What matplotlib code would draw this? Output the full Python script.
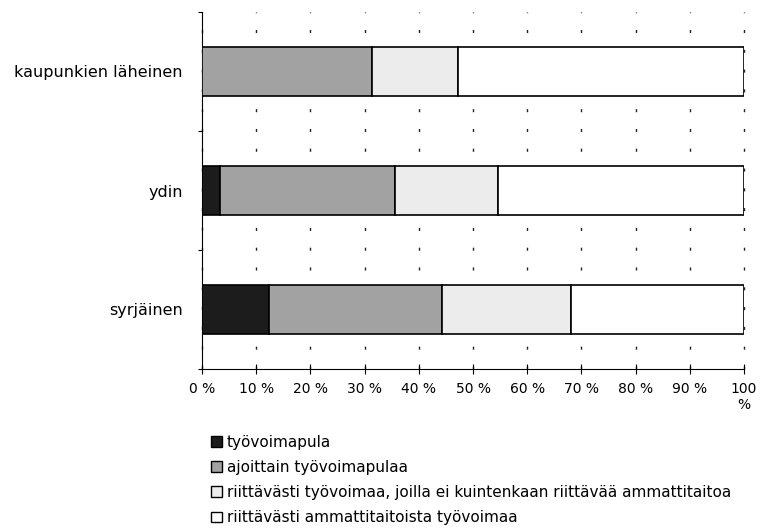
import matplotlib
matplotlib.use("Agg")
import matplotlib.pyplot as plt
from matplotlib.patches import Patch
import numpy as np

categories = ["kaupunkien läheinen", "ydin", "syrjäinen"]
series_names = [
    "työvoimapula",
    "ajoittain työvoimapulaa",
    "riittävästi työvoimaa, joilla ei kuintenkaan riittävää ammattitaitoa",
    "riittävästi ammattitaitoista työvoimaa",
]
tyovoimapula = [0.0, 3.4, 12.3]
ajoittain = [31.3, 32.2, 31.9]
riittava_ei_taito = [15.9, 19.1, 23.9]
riittava_taito = [52.8, 45.3, 31.9]
tick_values = [0, 10, 20, 30, 40, 50, 60, 70, 80, 90, 100]
tick_labels = ["0 %", "10 %", "20 %", "30 %", "40 %", "50 %", "60 %", "70 %", "80 %", "90 %", "100\n%"]

colors = ["#1c1c1c", "#a2a2a2", "#ececec", "#ffffff"]

W, H = 761, 528
fig = plt.figure(figsize=(W / 100, H / 100), dpi=100)
left, right, top, bottom = 202, 744, 12, 369
ax = fig.add_axes([left / W, 1 - bottom / H, (right - left) / W, (bottom - top) / H])

series = [tyovoimapula, ajoittain, riittava_ei_taito, riittava_taito]
y = np.arange(len(categories))
cum = np.zeros(len(categories))
handles = []
for vals, c, name in zip(series, colors, series_names):
    ax.barh(y, vals, left=cum, height=0.41, color=c, edgecolor="black",
            linewidth=1.2, zorder=3)
    cum += np.array(vals)
    handles.append(Patch(facecolor=c, edgecolor="black", linewidth=1.0, label=name))

ax.set_xlim(0, 100)
ax.set_ylim(2.5, -0.5)

ax.set_xticks(tick_values)
ax.set_xticklabels(tick_labels, fontsize=10, family="DejaVu Sans")
ax.tick_params(axis="x", direction="inout", length=7, width=0.8, pad=6)

ax.set_yticks(y)
ax.set_yticklabels(categories, fontsize=11.5, family="DejaVu Sans")
ax.tick_params(axis="y", which="major", length=0, pad=14)
ax.set_yticks([-0.5, 0.5, 1.5, 2.5], minor=True)
ax.tick_params(axis="y", which="minor", direction="out", length=3, width=0.8)

for s in ["top", "right"]:
    ax.spines[s].set_visible(False)
for s in ["left", "bottom"]:
    ax.spines[s].set_linewidth(0.8)

ax.set_axisbelow(True)
ax.xaxis.grid(True, which="major", color="#222222", linewidth=1.0,
              linestyle=(0, (2.2, 12.05)))
for gl in ax.get_xgridlines():
    gl.set_clip_on(False)

fig.legend(handles=handles, loc="upper left", bbox_to_anchor=(211 / W, 1 - 435 / H),
           frameon=False, fontsize=11, handlelength=0.7, handleheight=0.7,
           handletextpad=0.35, labelspacing=0.66, borderpad=0, borderaxespad=0)

fig.savefig("out.png", dpi=100)
